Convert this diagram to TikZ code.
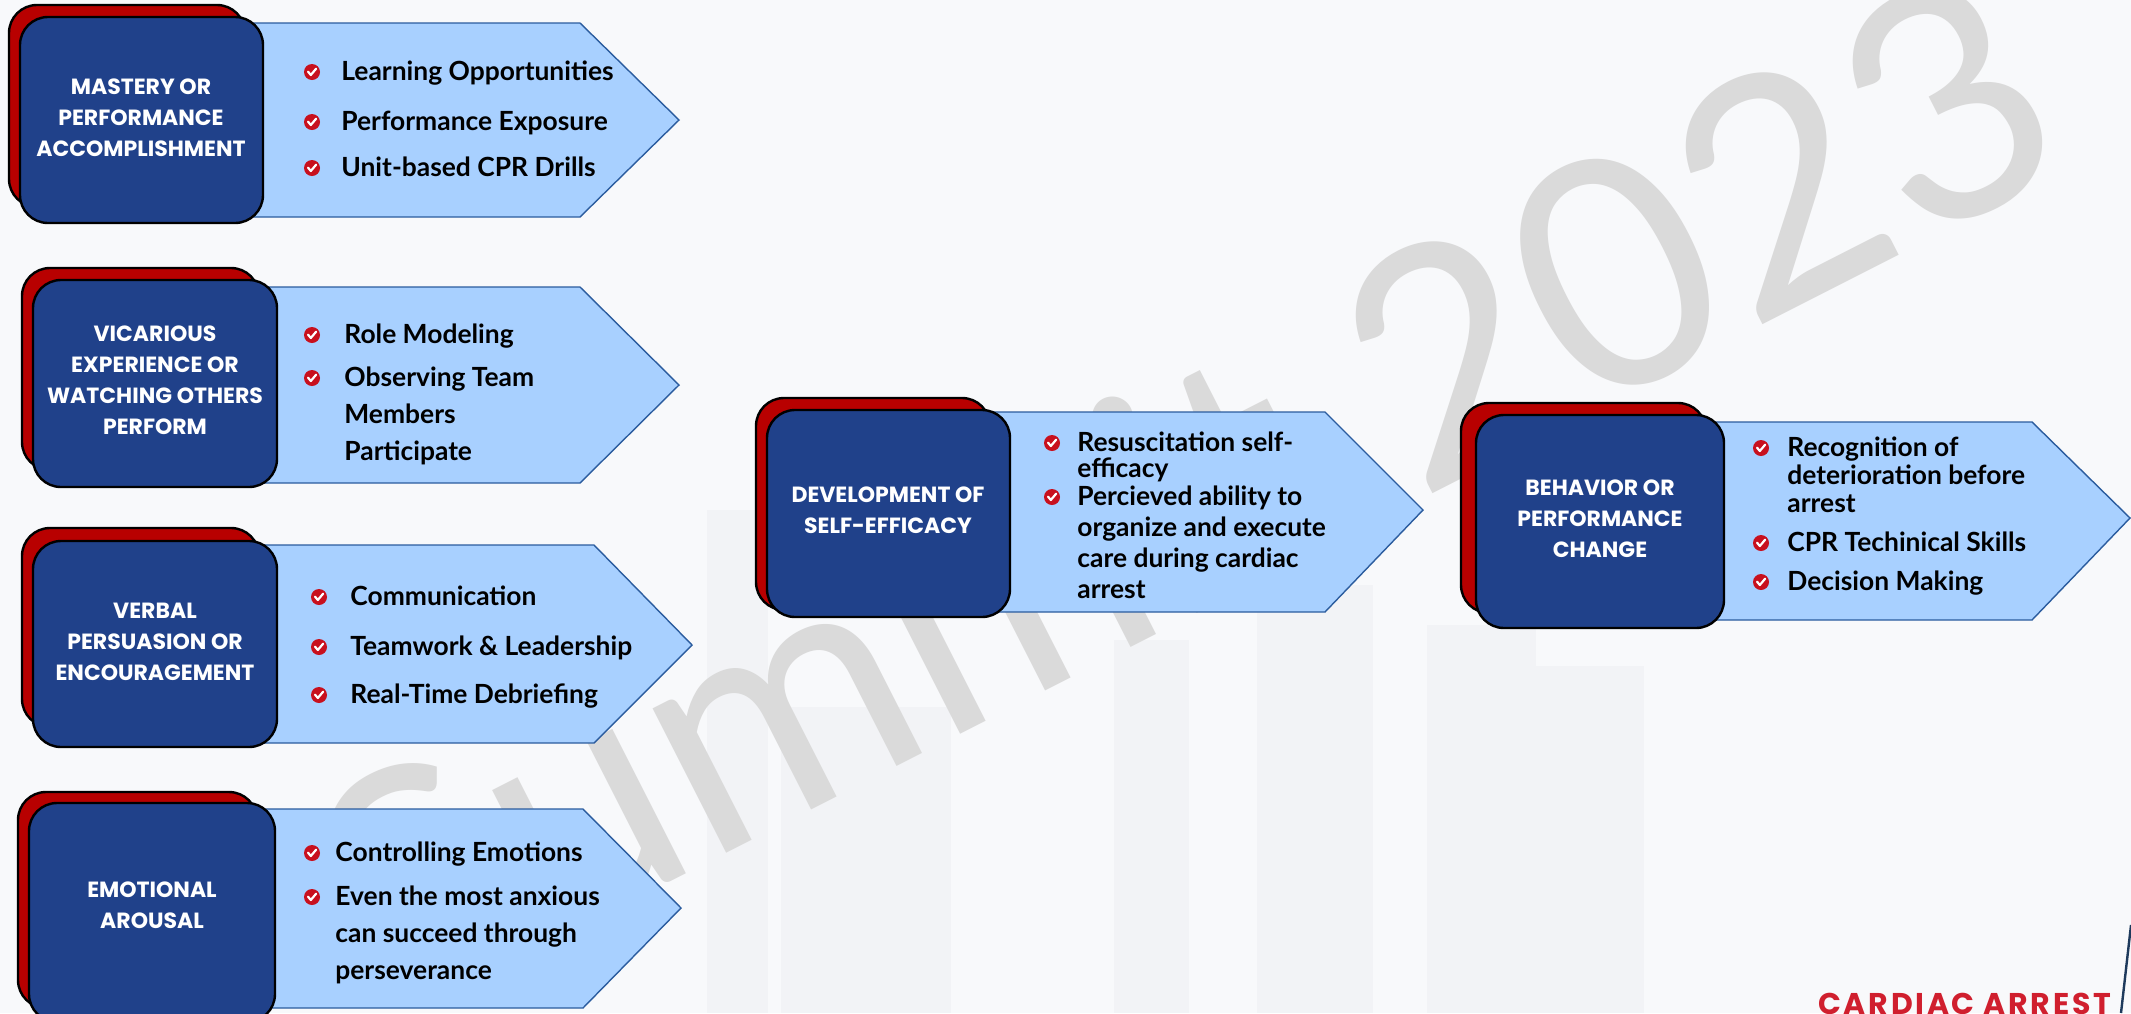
\documentclass[tikz,border=0pt]{standalone}
\usepackage{fontspec}
\setmainfont{Lato}
\newfontfamily\itemfamily{Lato}
\newfontfamily\labelfamily{Poppins}
\newfontfamily\brandfamily{Poppins}[LetterSpace=9]
\usetikzlibrary{fit}

\definecolor{pagebg}{HTML}{F8F9FB}
\definecolor{cityhaze}{HTML}{F2F3F6}
\definecolor{cardblue}{HTML}{20418A}
\definecolor{cardred}{HTML}{B80000}
\definecolor{flagfill}{HTML}{A8D0FF}
\definecolor{flagedge}{HTML}{2B5C9E}
\definecolor{tickred}{HTML}{C8101E}
\definecolor{markgray}{HTML}{DADADA}
\definecolor{brandred}{HTML}{D01F2E}
\definecolor{brandnavy}{HTML}{1E3A5C}

\tikzset{
  card/.style={draw=black, line width=1.2pt, rounded corners=14pt, inner sep=0pt},
  backcard/.style={card, fill=cardred},
  frontcard/.style={card, fill=cardblue},
  flag/.style={fill=flagfill, draw=flagedge, line width=0.7pt, line join=miter},
  cardlabel/.style={text=white, align=center, inner sep=0pt,
    font=\labelfamily\bfseries\fontsize{11}{15.5}\selectfont},
  % items are anchored at the baseline of their last line
  item/.style={anchor=base west, align=left, inner sep=0pt,
    font=\itemfamily\bfseries\fontsize{13.2}{18.5}\selectfont},
  checkdot/.pic={
    \fill[tickred] (0,0) circle (4pt);
    \draw[white, line width=1.1pt, line cap=round, line join=round]
      (-2pt,0.2pt) -- (-0.6pt,-1.5pt) -- (2.1pt,1.7pt);
  },
  watermark/.style={text=markgray, inner sep=0pt,
    font=\itemfamily\fontsize{160}{160}\selectfont},
  brand/.style={text=brandred, inner sep=0pt,
    font=\brandfamily\bfseries\fontsize{15}{15}\selectfont},
}

\begin{document}
\begin{tikzpicture}[x=0.5pt, y=-0.5pt]
% page and faint skyline
\fill[pagebg] (0,0) rectangle (2131,1013);
\useasboundingbox (0,0) rectangle (2131,1013);
\fill[cityhaze] (707,510) rectangle (768,1013);
\fill[cityhaze] (781,707) rectangle (951,1013);
\fill[cityhaze] (1114,640) rectangle (1189,1013);
\fill[cityhaze] (1257,585) rectangle (1373,1013);
\fill[cityhaze] (1427,625) rectangle (1536,1013);
\fill[cityhaze] (1536,666) rectangle (1644,1013);

% watermark
\node[watermark, rotate=27] (wm) at (1185,490) {Summit 2023};

% ---- stage 1
\filldraw[flag] (141,23) -- (580,23) -- (679,120) -- (580,217) -- (141,217);
\node[backcard, fit={(9,5) (245,207)}] (m1back) {};
\node[frontcard, fit={(20,17) (263,223)}] (m1) {};
\node[cardlabel] (m1t) at (141,118) {MASTERY OR\\PERFORMANCE\\ACCOMPLISHMENT};
\pic at (312,72) {checkdot};
\pic at (312,122) {checkdot};
\pic at (312,168) {checkdot};
\node[item] (m1a) at (341,80) {Learning Opportunities};
\node[item] (m1b) at (341,130) {Performance Exposure};
\node[item] (m1c) at (341,176) {Unit-based CPR Drills};

% ---- stage 2
\filldraw[flag] (155,287) -- (580,287) -- (679,385) -- (580,483) -- (155,483);
\node[backcard, fit={(22,268) (259,470)}] (v1back) {};
\node[frontcard, fit={(33,280) (277,487)}] (v1) {};
\node[cardlabel] (v1t) at (155,380) {VICARIOUS\\EXPERIENCE OR\\WATCHING OTHERS\\PERFORM};
\pic at (312,335) {checkdot};
\pic at (312,378) {checkdot};
\node[item] (v1a) at (344,343) {Role Modeling};
\node[item] (v1b) at (344,460) {Observing Team\\Members\\Participate};

% ---- stage 3
\filldraw[flag] (155,545) -- (594,545) -- (692,645) -- (594,743) -- (155,743);
\node[backcard, fit={(22,528) (259,727)}] (p1back) {};
\node[frontcard, fit={(33,541) (277,747)}] (p1) {};
\node[cardlabel] (p1t) at (155,642) {VERBAL\\PERSUASION OR\\ENCOURAGEMENT};
\pic at (319,597) {checkdot};
\pic at (319,647) {checkdot};
\pic at (319,695) {checkdot};
\node[item] (p1a) at (350,605) {Communication};
\node[item] (p1b) at (350,655) {Teamwork \& Leadership};
\node[item] (p1c) at (350,703) {Real-Time Debriefing};

% ---- stage 4
\filldraw[flag] (152,809) -- (583,809) -- (681,908) -- (583,1008) -- (152,1008);
\node[backcard, fit={(18,792) (257,1008)}] (e1back) {};
\node[frontcard, fit={(29,803) (275,1022)}] (e1) {};
\node[cardlabel] (e1t) at (152,905) {EMOTIONAL\\AROUSAL};
\pic at (312,853) {checkdot};
\pic at (312,897) {checkdot};
\node[item] (e1a) at (335,861) {Controlling Emotions};
\node[item] (e1b) at (335,979) {Even the most anxious\\can succeed through\\perseverance};

% ---- self-efficacy
\filldraw[flag] (888,412) -- (1325,412) -- (1423,510) -- (1325,612) -- (888,612);
\node[backcard, fit={(756,398) (990,610)}] (s1back) {};
\node[frontcard, fit={(767,410) (1010,617)}] (s1) {};
\node[cardlabel] (s1t) at (888,510) {DEVELOPMENT OF\\SELF-EFFICACY};
\pic at (1052,443) {checkdot};
\pic at (1052,497) {checkdot};
\node[item, font=\itemfamily\bfseries\fontsize{13.2}{13}\selectfont] (s1a) at (1077,477) {Resuscitation self-\\efficacy};
\node[item, font=\itemfamily\bfseries\fontsize{13.2}{15.5}\selectfont] (s1b) at (1077,598) {Percieved ability to\\organize and execute\\care during cardiac\\arrest};

% ---- behavior change
\filldraw[flag] (1600,422) -- (2032,422) -- (2130,518) -- (2032,620) -- (1600,620);
\node[backcard, fit={(1461,403) (1706,613)}] (b1back) {};
\node[frontcard, fit={(1476,415) (1724,628)}] (b1) {};
\node[cardlabel] (b1t) at (1600,519) {BEHAVIOR OR\\PERFORMANCE\\CHANGE};
\pic at (1761,448) {checkdot};
\pic at (1761,543) {checkdot};
\pic at (1761,582) {checkdot};
\node[item, font=\itemfamily\bfseries\fontsize{13.2}{14}\selectfont] (b1a) at (1787,512) {Recognition of\\deterioration before\\arrest};
\node[item] (b1b) at (1787,551) {CPR Techinical Skills};
\node[item] (b1c) at (1787,590) {Decision Making};

% ---- footer mark
\node[brand, anchor=base west] (brandtext) at (1818,1014) {CARDIAC ARREST};
\draw[brandnavy, line width=1.2pt] (2131,925) -- (2121,1013);
\end{tikzpicture}
\end{document}
